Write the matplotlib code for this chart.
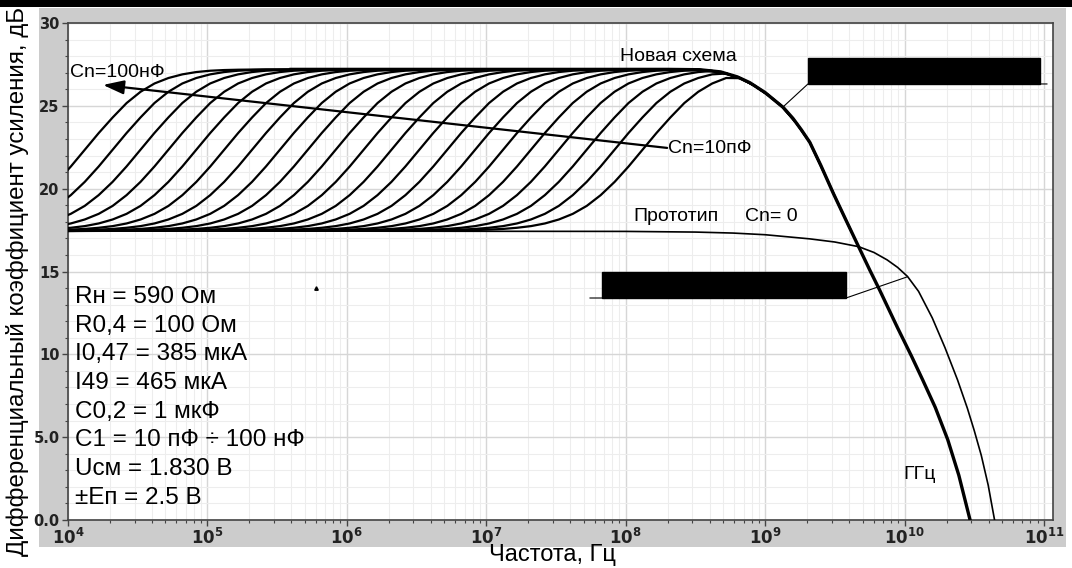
import numpy as np
import matplotlib
matplotlib.use("Agg")
import matplotlib.pyplot as plt
from matplotlib.patches import Rectangle
from matplotlib.ticker import FixedLocator, FixedFormatter, LogLocator, MultipleLocator, NullFormatter

plt.rcParams["font.family"] = ["Liberation Sans", "DejaVu Sans"]

# профиль подъёма АЧХ семейства (дБ над нижним уровнем) от смещения по частоте, декады
RISE_OFFSET_DEC = [-1.5, -1.4, -1.3, -1.2, -1.1, -1.0, -0.9, -0.8, -0.7, -0.6, -0.5,
                   -0.4, -0.3, -0.2, -0.1, 0.0, 0.1, 0.2, 0.3, 0.4, 0.5,
                   0.6, 0.7, 0.8, 0.9, 1.0, 1.1, 1.2, 1.3, 1.4, 1.5]
RISE_DB = [0.01, 0.02, 0.03, 0.05, 0.08, 0.12, 0.19, 0.29, 0.45, 0.69, 1.03,
           1.51, 2.16, 2.96, 3.89, 4.90, 5.91, 6.85, 7.72, 8.40, 8.90,
           9.23, 9.45, 9.59, 9.67, 9.71, 9.73, 9.74, 9.75, 9.75, 9.75]
LOW_DB = 17.45

# середины переходов для Cn = 100 нФ ... 10 пФ
FAMILY_MID_HZ = [1.32e4, 2.09e4, 3.31e4, 5.25e4, 8.32e4, 1.32e5, 2.09e5, 3.31e5,
                 5.25e5, 8.32e5, 1.32e6, 2.09e6, 3.31e6, 5.25e6, 8.32e6, 1.32e7,
                 2.09e7, 3.31e7, 5.25e7, 8.32e7, 1.32e8]

# новая схема (огибающая)
NEW_HZ = [3.98e5, 2.0e8, 3.39e8, 4.79e8, 6.31e8, 7.76e8, 1.0e9, 1.35e9, 1.58e9,
          1.82e9, 2.09e9, 2.51e9, 3.09e9, 3.80e9, 4.68e9, 5.62e9, 6.61e9, 8.91e9,
          1.12e10, 1.35e10, 1.66e10, 2.04e10, 2.45e10, 2.95e10]
NEW_DB = [27.2, 27.2, 27.18, 27.05, 26.75, 26.4, 25.8, 24.9, 24.25,
          23.55, 22.8, 21.4, 19.7, 18.1, 16.5, 15.1, 13.9, 11.6,
          9.9, 8.45, 6.8, 4.85, 2.7, 0.0]

# прототип, Cn = 0
PROTO_HZ = [1e4, 1e8, 3.16e8, 5.89e8, 1e9, 2.09e9, 3.16e9, 4.68e9, 6.03e9, 7.5e9,
            8.91e9, 1.05e10, 1.26e10, 1.58e10, 1.95e10, 2.40e10, 2.82e10, 3.16e10,
            3.55e10, 3.98e10, 4.42e10]
PROTO_DB = [17.45, 17.42, 17.38, 17.32, 17.22, 16.97, 16.78, 16.5, 16.15, 15.7,
            15.25, 14.7, 13.8, 12.2, 10.4, 8.45, 6.75, 5.4, 3.9, 2.1, 0.0]

PARAM_LINES = ["Rн = 590 Ом", "R0,4 = 100 Ом", "I0,47 = 385 мкА", "I49 = 465 мкА",
               "C0,2 = 1 мкФ", "C1 = 10 пФ ÷ 100 нФ", "Uсм = 1.830 В", "±Eп = 2.5 В"]

Y_TICKS = [0, 5, 10, 15, 20, 25, 30]
Y_TICK_LABELS = ["0.0", "5.0", "10", "15", "20", "25", "30"]
X_TICKS = [1e4, 1e5, 1e6, 1e7, 1e8, 1e9, 1e10, 1e11]
X_TICK_LABELS = [r"$\mathbf{10^{%d}}$" % p for p in range(4, 12)]

W, H = 1072, 568
fig = plt.figure(figsize=(W / 100, H / 100), dpi=100)

# серая подложка и чёрная полоса сверху
fig.patches.append(Rectangle((39 / W, 21 / H), (1066 - 39) / W, (547 - 8) / H,
                             transform=fig.transFigure, facecolor="#cccccc",
                             edgecolor="none", zorder=-10))
fig.patches.append(Rectangle((0, 561 / H), 1, 7 / H, transform=fig.transFigure,
                             facecolor="black", edgecolor="none", zorder=-10))

ax = fig.add_axes([68 / W, 48 / H, 985 / W, 497 / H])
ax.set_zorder(1)
ax.set_facecolor("white")
ax.set_xscale("log")
ax.set_xlim(1e4, 10 ** 11.0646)
ax.set_ylim(0, 30)

ax.xaxis.set_major_locator(FixedLocator(X_TICKS))
ax.xaxis.set_major_formatter(FixedFormatter(X_TICK_LABELS))
ax.xaxis.set_minor_locator(LogLocator(base=10, subs=np.arange(2, 10), numticks=20))
ax.xaxis.set_minor_formatter(NullFormatter())
ax.yaxis.set_major_locator(FixedLocator(Y_TICKS))
ax.yaxis.set_major_formatter(FixedFormatter(Y_TICK_LABELS))
ax.yaxis.set_minor_locator(MultipleLocator(1))

ax.grid(which="major", color="#d6d6d6", lw=1.0, zorder=0)
ax.grid(which="minor", color="#ededed", lw=0.8, zorder=0)
ax.set_axisbelow(True)
for sp in ax.spines.values():
    sp.set_color("#444444")
    sp.set_linewidth(1.2)
ax.tick_params(which="major", direction="out", length=4, width=1, color="#444444",
               pad=2, labelsize=10.5)
ax.tick_params(which="minor", direction="out", length=2.5, width=0.8, color="#444444")
for lab in ax.get_xticklabels() + ax.get_yticklabels():
    lab.set_fontfamily("DejaVu Sans")
    lab.set_fontweight("bold")
    lab.set_color("#222222")
for lab in ax.get_xticklabels():
    lab.set_fontsize(12)

# семейство кривых: подъём до огибающей новой схемы
log_new = np.log10(NEW_HZ)
for mid in FAMILY_MID_HZ:
    f = mid * 10 ** np.array(RISE_OFFSET_DEC)
    g = np.minimum(LOW_DB + np.array(RISE_DB), np.interp(np.log10(f), log_new, NEW_DB))
    if f[0] > 1e4:
        f = np.concatenate([[1e4], f])
        g = np.concatenate([[LOW_DB], g])
    ax.plot(f, g, color="black", lw=1.6, zorder=3)

ax.plot(NEW_HZ, NEW_DB, color="black", lw=2.4, zorder=3)
ax.plot(PROTO_HZ, PROTO_DB, color="black", lw=1.2, zorder=3)
ax.plot([6.0e5], [14.0], marker="^", ms=2.5, color="black", zorder=3)

# подписи
ax.text(10 ** 4.014, 27.04, "Cn=100нФ", fontsize=14, va="center", ha="left", zorder=5)
ax.text(10 ** 8.304, 22.45, "Cn=10пФ", fontsize=14, va="center", ha="left", zorder=5)
ax.annotate("", xy=(10 ** 4.251, 26.26), xytext=(10 ** 8.297, 22.46),
            arrowprops=dict(arrowstyle="-|>,head_length=0.9,head_width=0.3",
                            color="black", lw=1.6, mutation_scale=14,
                            shrinkA=0, shrinkB=0), zorder=5)
ax.text(10 ** 7.96, 27.95, "Новая схема", fontsize=14, va="center", ha="left", zorder=5)
ax.text(10 ** 8.053, 18.29, "Прототип", fontsize=14, va="center", ha="left", zorder=5)
ax.text(10 ** 8.857, 18.29, "Cn= 0", fontsize=14, va="center", ha="left", zorder=5)
ax.text(10 ** 9.99, 2.72, "ГГц", fontsize=14, va="center", ha="left", zorder=5)

for i, line in enumerate(PARAM_LINES):
    ax.text(10 ** 4.05, 13.45 - i * 1.73, line, fontsize=17.5, va="center",
            ha="left", zorder=5)

# выноски (закрашенные)
ax.plot([10 ** 9.128, 10 ** 9.307, 10 ** 11.021], [24.93, 26.32, 26.32],
        color="black", lw=0.8, zorder=4, clip_on=False)
ax.fill([10 ** 9.307, 10 ** 10.971, 10 ** 10.971, 10 ** 9.307],
        [26.32, 26.32, 27.89, 27.89], color="black", zorder=4)
ax.plot([10 ** 10.017, 10 ** 9.58, 10 ** 7.744], [14.67, 13.40, 13.40],
        color="black", lw=0.8, zorder=4)
ax.fill([10 ** 7.83, 10 ** 9.58, 10 ** 9.58, 10 ** 7.83],
        [13.40, 13.40, 14.97, 14.97], color="black", zorder=4)

fig.text(18 / W, 0.505, "Дифференциальный коэффициент усиления, дБ", rotation=90,
         fontsize=17.4, ha="center", va="center")
fig.text(552 / W, 13 / H, "Частота, Гц", fontsize=17, ha="center", va="center")

fig.savefig("out.png", dpi=100, facecolor="white")
